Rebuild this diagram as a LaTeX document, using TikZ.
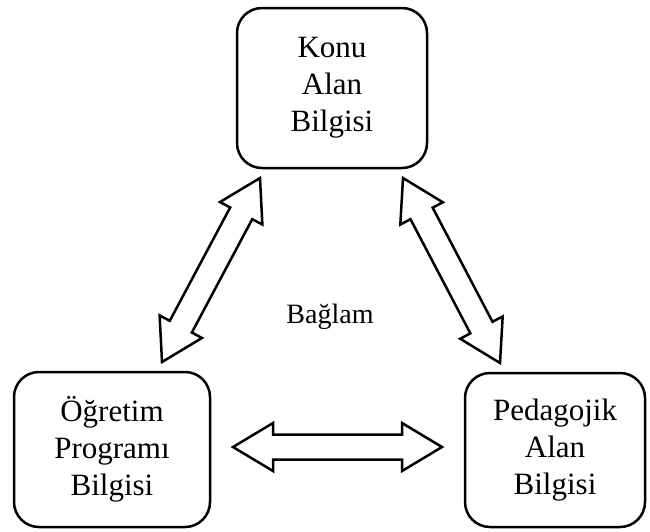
\documentclass[tikz,border=0pt]{standalone}
\usepackage{fontspec}
\setmainfont{Liberation Serif}
\usetikzlibrary{calc}

% hollow double arrow between two named tips
\newcommand{\ciftok}[2]{%
	\coordinate (u1) at ($(#1)!40pt!(#2)$);
	\coordinate (u2) at ($(#2)!40pt!(#1)$);
	\draw[ok] (#1) -- ($(u1)!24pt!90:(#2)$) -- ($(u1)!12.5pt!90:(#2)$) -- ($(u2)!12.5pt!-90:(#1)$) -- ($(u2)!24pt!-90:(#1)$) -- (#2) -- ($(u2)!24pt!90:(#1)$) -- ($(u2)!12.5pt!90:(#1)$) -- ($(u1)!12.5pt!-90:(#2)$) -- ($(u1)!24pt!-90:(#2)$) -- cycle;}

\begin{document}
\begin{tikzpicture}[x=1pt,y=-1pt,
	bilgi/.style={draw,line width=2.5pt,rounded corners=25pt,align=center,font={\fontsize{31}{37}\selectfont}},
	ok/.style={line width=2.5pt,line join=miter,fill=white}]
		\useasboundingbox (0,0) rectangle (650,531);
		\node[bilgi,minimum width=190pt,minimum height=160pt] (konu) at (332,88) {Konu\\Alan\\Bilgisi};
		\node[bilgi,minimum width=196pt,minimum height=155pt] (ogretim) at (112,449.5) {Öğretim\\Programı\\Bilgisi};
		\node[bilgi,minimum width=180pt,minimum height=154pt] (pedagojik) at (555,450) {Pedagojik\\Alan\\Bilgisi};
		\node[font={\fontsize{28}{32}\selectfont}] (baglam) at (330,317) {Bağlam};
		% ok uclari
		\coordinate (a1) at (260,178);
		\coordinate (a2) at (162,362);
		\coordinate (b1) at (403,178);
		\coordinate (b2) at (500,363);
		\coordinate (c1) at (233,447);
		\coordinate (c2) at (442,447);
		\ciftok{a1}{a2}
		\ciftok{b1}{b2}
		\ciftok{c1}{c2}
	\end{tikzpicture}
\end{document}
